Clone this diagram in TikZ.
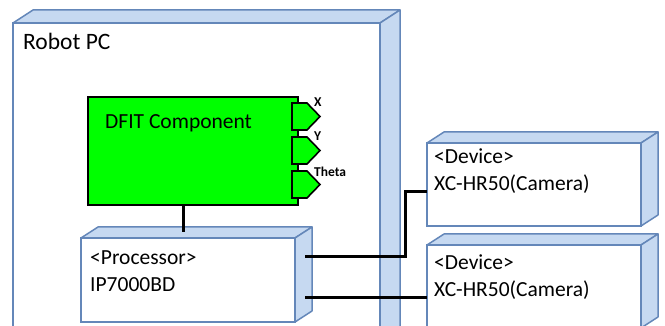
\documentclass[tikz,border=0pt]{standalone}
\usepackage{fontspec}
\setmainfont{Carlito}
\usetikzlibrary{shapes.symbols}
\definecolor{boxline}{RGB}{100,135,185}
\definecolor{boxside}{RGB}{198,217,241}
\definecolor{compgreen}{RGB}{0,255,0}
\begin{document}
\begin{tikzpicture}[x=1pt,y=-1pt,
  front/.style={draw=boxline, fill=white, line width=1.5pt, inner sep=0pt, outer sep=0pt, anchor=north west},
  face/.style={draw=boxline, fill=boxside, line width=1.5pt, line join=round},
  conn/.style={line width=3pt, black},
  lbl/.style={font=\fontsize{21.5}{27}\selectfont, anchor=base west, inner sep=0pt},
  portlbl/.style={font=\bfseries\fontsize{13.5}{13.5}\selectfont, anchor=base west, inner sep=0pt},
  port/.style={signal, signal to=east, draw=black, fill=compgreen, line width=1.6pt, minimum width=28pt, minimum height=27pt, inner sep=0pt, outer sep=0pt, anchor=north west, signal pointer angle=92},
  comp/.style={draw=black, fill=compgreen, line width=1.9pt, inner sep=0pt, outer sep=0pt, anchor=north west}
]
\clip (0,0) rectangle (665,326);
% Robot PC
\node[front, minimum width=367pt, minimum height=330pt] (pc) at (13,23) {};
\draw[face] (pc.north west) -- ++(20,-13) -- ([shift={(20,-13)}]pc.north east) -- (pc.north east) -- cycle;
\draw[face] (pc.north east) -- ([shift={(20,-13)}]pc.north east) -- ([shift={(20,-13)}]pc.south east) -- (pc.south east) -- cycle;
\node[lbl, font=\fontsize{23.5}{28}\selectfont] (pclbl) at (23,50) {Robot PC};
% DFIT component
\node[comp, minimum width=210pt, minimum height=108pt] (dfit) at (88,97) {};
\node[lbl] (dfitlbl) at (105,129) {DFIT Component};
\node[port] (px) at (292,103) {};
\node[port] (py) at (292,137) {};
\node[port] (pt) at (292,171) {};
\node[portlbl] (pxl) at (314,107) {X};
\node[portlbl] (pyl) at (314,141) {Y};
\node[portlbl] (ptl) at (314,177) {Theta};
% Processor
\node[front, minimum width=214pt, minimum height=84pt] (proc) at (81,238) {};
\draw[face] (proc.north west) -- ++(17,-11) -- ([shift={(17,-11)}]proc.north east) -- (proc.north east) -- cycle;
\draw[face] (proc.north east) -- ([shift={(17,-11)}]proc.north east) -- ([shift={(17,-11)}]proc.south east) -- (proc.south east) -- cycle;
\node[lbl] (procl1) at (90,265) {<Processor>};
\node[lbl] (procl2) at (90,291) {IP7000BD};
% Device 1
\node[front, minimum width=214pt, minimum height=83pt] (dev1) at (427,143) {};
\draw[face] (dev1.north west) -- ++(17,-11) -- ([shift={(17,-11)}]dev1.north east) -- (dev1.north east) -- cycle;
\draw[face] (dev1.north east) -- ([shift={(17,-11)}]dev1.north east) -- ([shift={(17,-11)}]dev1.south east) -- (dev1.south east) -- cycle;
\node[lbl] (dev1l1) at (434,164) {<Device>};
\node[lbl] (dev1l2) at (434,191) {XC-HR50(Camera)};
% Device 2
\node[front, minimum width=214pt, minimum height=83pt] (dev2) at (427,245) {};
\draw[face] (dev2.north west) -- ++(17,-11) -- ([shift={(17,-11)}]dev2.north east) -- (dev2.north east) -- cycle;
\draw[face] (dev2.north east) -- ([shift={(17,-11)}]dev2.north east) -- ([shift={(17,-11)}]dev2.south east) -- (dev2.south east) -- cycle;
\node[lbl] (dev2l1) at (434,270) {<Device>};
\node[lbl] (dev2l2) at (434,297) {XC-HR50(Camera)};
% connectors
\coordinate (ptop) at (183,232);
\draw[conn] (dfit.south -| ptop) -- (ptop);
\coordinate (pr1) at (305,257);
\draw[conn] (pr1) -| ([shift={(-22,7)}]dev1.west) -- ([shift={(0,7)}]dev1.west);
\coordinate (pr2) at (305,298);
\draw[conn] (pr2) -- (pr2 -| dev2.west);
\end{tikzpicture}
\end{document}
